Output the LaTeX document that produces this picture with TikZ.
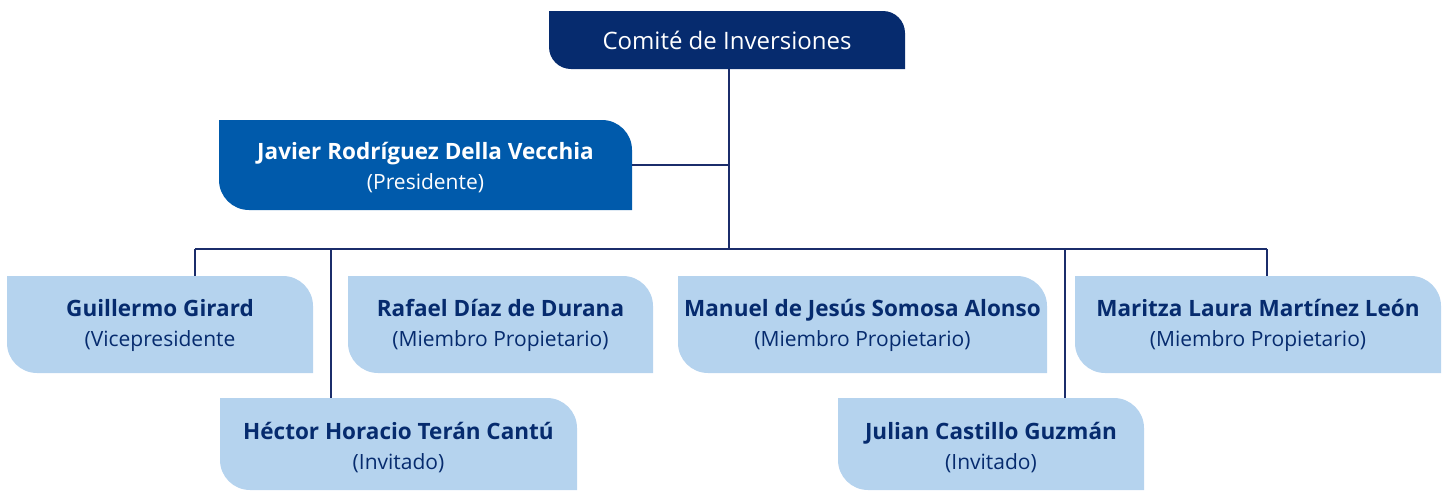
\documentclass[tikz,border=0pt]{standalone}
\usepackage{fontspec}
\setmainfont{Open Sans}
\definecolor{navy}{HTML}{062B6E}
\definecolor{midblue}{HTML}{005AAB}
\definecolor{lightblue}{HTML}{B5D3EE}
\definecolor{linecol}{HTML}{1B2D6B}
\newcommand{\nm}[1]{{\fontsize{22.5}{30}\selectfont\bfseries #1}}
\tikzset{
  tab/.style n args={2}{rectangle, inner sep=0pt, align=center,
    path picture={
      \fill[#1] (path picture bounding box.north west)
        -- ([xshift=-#2]path picture bounding box.north east)
        arc[start angle=90,end angle=0,radius=#2]
        -- (path picture bounding box.south east)
        -- ([xshift=#2]path picture bounding box.south west)
        arc[start angle=270,end angle=180,radius=#2]
        -- cycle;}},
  member/.style={tab={lightblue}{30pt}, text=navy, minimum height=97pt,
    font=\fontsize{21}{30}\selectfont, text height=44pt, text depth=0pt},
  guest/.style={member, minimum height=92pt, text height=50pt},
  conn/.style={draw=linecol, line width=1.3pt},
}
\begin{document}
\begin{tikzpicture}[x=1pt,y=1pt]
\useasboundingbox (0,0) rectangle (1449,-493);
% top
\node[tab={navy}{22pt}, text=white, minimum width=356pt, minimum height=58pt,
  font=\fontsize{24}{28}\selectfont] (top) at (727,-40) {Comité de Inversiones};
\node[tab={midblue}{30pt}, text=white, minimum width=413pt, minimum height=90pt,
  font=\fontsize{21}{30}\selectfont, text height=48pt, text depth=0pt] (pres) at (425.5,-165)
  {\nm{Javier Rodríguez Della Vecchia}\\(Presidente)};
\node[member, minimum width=306pt] (gg) at (160,-324.5) {\nm{Guillermo Girard}\\(Vicepresidente};
\node[member, minimum width=305pt] (rd) at (500.5,-324.5) {\nm{Rafael Díaz de Durana}\\(Miembro Propietario)};
\node[member, minimum width=369pt] (ms) at (862.5,-324.5) {\nm{Manuel de Jesús Somosa Alonso}\\(Miembro Propietario)};
\node[member, minimum width=366pt] (mm) at (1258,-324.5) {\nm{Maritza Laura Martínez León}\\(Miembro Propietario)};
\node[guest, minimum width=357pt] (hc) at (398.5,-444) {\nm{Héctor Horacio Terán Cantú}\\(Invitado)};
\node[guest, minimum width=306pt] (jc) at (991,-444) {\nm{Julian Castillo Guzmán}\\(Invitado)};
% connectors
\coordinate (hub) at (729,-249);
\coordinate (hl) at (195,-249);
\coordinate (hr) at (1267,-249);
\coordinate (c1) at (331,-249);
\coordinate (c2) at (1065,-249);
\draw[conn] (top.south -| hub) -- (hub);
\draw[conn] (pres.east) -- (pres.east -| hub);
\draw[conn] (hl) -- (hr);
\draw[conn] (hl) -- (hl |- gg.north);
\draw[conn] (hr) -- (hr |- mm.north);
\draw[conn] (c1) -- (c1 |- hc.north);
\draw[conn] (c2) -- (c2 |- jc.north);
\end{tikzpicture}
\end{document}
